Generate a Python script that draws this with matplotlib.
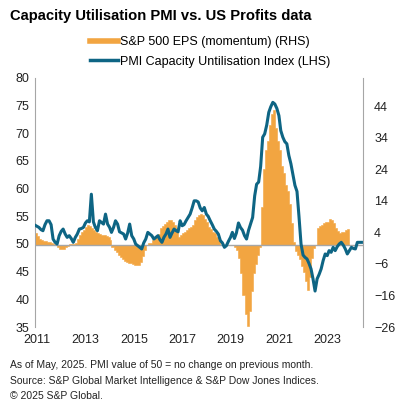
import numpy as np
import pandas as pd
import matplotlib
matplotlib.use("Agg")
import matplotlib.pyplot as plt
import matplotlib.dates as mdates
from matplotlib.lines import Line2D

plt.rcParams['font.family'] = ['Liberation Sans', 'DejaVu Sans']

# Monthly data, Jan 2011 onward
pmi = [53.4, 53.2, 53.0, 52.6, 52.4, 53.5, 54.2, 54.2, 53.5, 50.9, 50.3, 50.0,
       51.5, 52.3, 52.7, 51.8, 51.2, 51.5, 51.0, 50.3, 51.2, 51.8, 52.7, 52.8,
       53.0, 53.8, 54.2, 54.0, 59.0, 54.0, 53.0, 52.4, 54.2, 53.9, 53.6, 55.4,
       53.6, 53.0, 52.1, 53.0, 54.2, 53.6, 52.2, 52.0, 51.8, 50.9, 52.0, 53.6,
       51.5, 50.9, 50.0, 49.7, 49.4, 49.1, 50.2, 50.9, 52.1, 51.8, 51.5, 50.9,
       51.2, 51.5, 50.8, 50.3, 51.2, 51.8, 52.7, 51.2, 52.0, 52.7, 52.4, 52.2,
       54.2, 53.3, 53.5, 54.2, 54.8, 55.4, 56.5, 57.8, 57.8, 57.6, 56.5, 56.0,
       56.6, 55.4, 55.0, 54.2, 53.5, 52.7, 52.3, 51.8, 50.6, 50.2, 49.4, 49.7,
       50.5, 51.2, 52.1, 51.0, 52.0, 53.8, 53.0, 52.5, 51.5, 50.9, 52.5, 53.6,
       54.8, 58.7, 60.8, 61.2, 64.0, 69.3, 69.9, 71.5, 73.8, 74.8, 75.6, 75.3,
       74.5, 73.2, 70.5, 69.3, 68.5, 68.1, 66.0, 64.5, 62.5, 60.6, 59.5, 55.0,
       50.0, 48.0, 47.6, 47.3, 46.5, 45.5, 43.7, 41.5, 43.7, 44.5, 45.5, 47.0,
       48.2, 47.9, 48.8, 48.5, 49.4, 48.8, 49.5, 50.0, 50.3, 49.8, 49.1, 48.2,
       48.8, 49.4, 49.2, 49.1, 50.3, 50.3, 50.3]

eps = [3.7, 3.0, 2.0, 1.6, 1.4, 1.2, 1.0, 1.0, 0.8, 0.3, 0.0, -0.6,
       -1.2, -1.4, -1.2, -0.7, -0.3, 0.2, 0.3, 0.4, 0.6, 2.0, 3.2, 4.0,
       4.8, 5.6, 6.3, 6.0, 5.4, 4.8, 4.2, 3.8, 3.5, 3.2, 3.2, 2.8,
       2.6, 1.6, -0.5, -1.5, -2.1, -3.0, -3.8, -4.5, -5.0, -5.3, -5.6, -5.8,
       -6.0, -6.2, -6.3, -6.3, -5.3, -3.5, -1.6, 0.0, 0.5, 0.8, 1.5, 2.2,
       2.6, 3.5, 5.3, 6.0, 6.8, 7.4, 7.9, 7.8, 7.4, 6.5, 5.3, 2.6,
       3.2, 3.8, 4.2, 4.8, 5.3, 5.8, 6.3, 7.9, 8.8, 9.5, 10.0, 9.5,
       8.2, 7.4, 5.8, 5.0, 4.2, 3.7, 2.5, 1.6, 0.0, 0.0, 0.0, 0.0,
       0.0, 0.0, 0.0, -0.5, -1.5, -4.0, -9.0, -16.0, -22.0, -25.8, -21.0, -14.5,
       -9.0, -6.0, -3.0, -0.5, 12.0, 24.0, 30.0, 33.0, 38.0, 41.5, 43.0, 37.0,
       33.0, 30.0, 25.0, 23.0, 19.0, 17.0, 13.0, 7.0, 1.0, -2.0, -3.0, -4.5,
       -6.5, -8.5, -11.5, -14.3, -10.0, -4.0, -1.0, 0.0, 5.3, 6.0, 6.3, 6.9,
       7.2, 7.4, 8.2, 8.0, 7.0, 5.5, 4.5, 3.8, 4.0, 4.2, 4.8, 5.2]

dates_pmi = pd.date_range("2011-01-01", periods=len(pmi), freq="MS")
dates_eps = pd.date_range("2011-01-01", periods=len(eps) + 1, freq="MS")
eps_step = eps + [eps[-1]]

left_ticks = [35, 40, 45, 50, 55, 60, 65, 70, 75, 80]
right_ticks = [-26, -16, -6, 4, 14, 24, 34, 44]
year_ticks = [2011, 2013, 2015, 2017, 2019, 2021, 2023]

orange = "#F2A541"
teal = "#0E6584"
grey = "#A6A6A6"

fig = plt.figure(figsize=(3.99, 4.03), dpi=100)
ax = fig.add_axes([35/399, 1-327/403, (363-35)/399, (327-78)/403])
ax2 = ax.twinx()

ax2.fill_between(dates_eps, eps_step, 0, step="post", facecolor=orange,
                 edgecolor=orange, linewidth=0.4, antialiased=True)
ax2.set_ylim(-26, 53)
ax2.set_yticks(right_ticks)
ax2.axhline(0, color=grey, lw=1.0, zorder=3)

ax.plot(dates_pmi, pmi, color=teal, lw=2.2, zorder=5)
ax.set_ylim(35, 80)
ax.set_yticks(left_ticks)
ax.set_xlim(pd.Timestamp("2011-01-01"), pd.Timestamp("2024-07-25"))
ax.set_xticks([pd.Timestamp(f"{y}-02-01") for y in year_ticks])
ax.xaxis.set_major_formatter(mdates.DateFormatter("%Y"))

ax.set_zorder(ax2.get_zorder() + 1)
ax.patch.set_visible(False)

for a in (ax, ax2):
    for s in ("top", "bottom"):
        a.spines[s].set_visible(False)
    a.spines["left"].set_color(grey)
    a.spines["right"].set_color(grey)
    a.tick_params(length=0, labelsize=9, colors="#222222")
ax.spines["right"].set_visible(False)
ax2.spines["left"].set_visible(False)
ax.tick_params(axis='y', pad=4)
ax2.tick_params(axis='y', pad=8)
ax.tick_params(axis='x', pad=5)

fig.text(10/399, 1-16/403, "Capacity Utilisation PMI vs. US Profits data",
         fontsize=10.6, fontweight="bold", va="center", ha="left")

handles = [Line2D([], [], color=orange, lw=4),
           Line2D([], [], color=teal, lw=2.5)]
labels = ["S&P 500 EPS (momentum) (RHS)", "PMI Capacity Untilisation Index (LHS)"]
fig.legend(handles, labels, loc="upper left", bbox_to_anchor=(90/399, 1-36/403),
           frameon=False, fontsize=9, handlelength=2.2, handletextpad=0.2,
           labelspacing=0.6, borderaxespad=0, borderpad=0)

foot = ["As of May, 2025. PMI value of 50 = no change on previous month.",
        "Source: S&P Global Market Intelligence & S&P Dow Jones Indices.",
        "© 2025 S&P Global."]
for i, t in enumerate(foot):
    fig.text(10/399, 1-(365+15.5*i)/403, t, fontsize=7.5, va="center", ha="left",
             color="#222222")

fig.savefig("out.png", dpi=100)
